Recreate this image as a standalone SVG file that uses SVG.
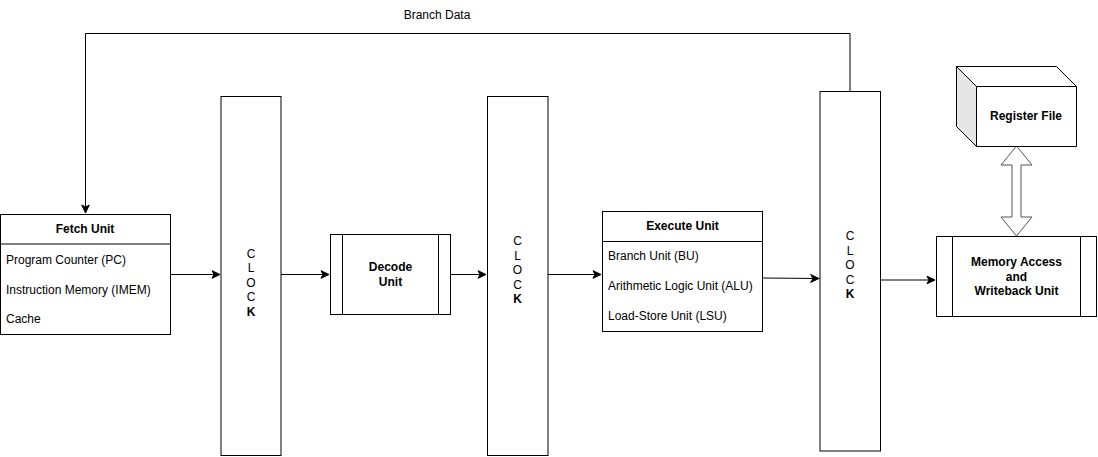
<svg xmlns="http://www.w3.org/2000/svg" width="1098" height="457" viewBox="0 0 1098 457">
<style>
text{font-family:"Liberation Sans",Arial,sans-serif;font-size:12px;fill:#000}
.b{font-weight:bold}
.m{text-anchor:middle}
.box{fill:#fff;stroke:#000;stroke-width:1}
.ln{fill:none;stroke:#000;stroke-width:1}
</style>
<defs>
<marker id="ah" markerUnits="userSpaceOnUse" markerWidth="10" markerHeight="10" viewBox="0 0 10 10" refX="9" refY="5" orient="auto">
<path d="M1,1.2 L9,5 L1,8.8 L3,5 Z" fill="#000" stroke="#000" stroke-width="1"/>
</marker>
</defs>
<rect width="1098" height="457" fill="#fff"/>

<g id="connectors">
<path class="ln" d="M850,91 L850,33.5 L85.5,33.5 L85.5,213" marker-end="url(#ah)"/>
<path class="ln" d="M170,274.5 L220,274.5" marker-end="url(#ah)"/>
<path class="ln" d="M281,274.5 L329,274.5" marker-end="url(#ah)"/>
<path class="ln" d="M450,274.5 L486,274.5" marker-end="url(#ah)"/>
<path class="ln" d="M548,274.5 L601,274.5" marker-end="url(#ah)"/>
<path class="ln" d="M763,278 L819,278.5" marker-end="url(#ah)"/>
<path class="ln" d="M880,280 L935,280" marker-end="url(#ah)"/>
<path d="M1016.5,146 L1032,165 L1021,165 L1021,217 L1032,217 L1016.5,236 L1001,217 L1012,217 L1012,165 L1001,165 Z" fill="#fff" stroke="#555" stroke-width="1"/>
<text class="m" x="437" y="19.3">Branch Data</text>
</g>

<g id="fetch">
<rect class="box" x="0.5" y="214.5" width="170" height="120"/>
<line class="ln" x1="0.5" y1="244" x2="170.5" y2="244"/>
<text class="b m" x="85" y="233.3">Fetch Unit</text>
<text x="6" y="263.5">Program Counter (PC)</text>
<text x="6" y="293.5">Instruction Memory (IMEM)</text>
<text x="6" y="322.5">Cache</text>
</g>

<g id="clock1">
<rect class="box" x="221" y="96.5" width="60" height="359"/>
<text class="m" x="251" y="257.5">C</text>
<text class="m" x="251" y="272">L</text>
<text class="m" x="251" y="286.5">O</text>
<text class="m" x="251" y="301">C</text>
<text class="m b" x="251" y="316">K</text>
</g>

<g id="decode">
<rect class="box" x="330.5" y="234.5" width="120" height="80"/>
<line class="ln" x1="342.5" y1="234.5" x2="342.5" y2="314.5"/>
<line class="ln" x1="438.5" y1="234.5" x2="438.5" y2="314.5"/>
<text class="b m" x="390.5" y="271">Decode</text>
<text class="b m" x="390.5" y="285.6">Unit</text>
</g>

<g id="clock2">
<rect class="box" x="487.5" y="96.5" width="60.5" height="359"/>
<text class="m" x="517.5" y="245">C</text>
<text class="m" x="517.5" y="259.7">L</text>
<text class="m" x="517.5" y="274.3">O</text>
<text class="m" x="517.5" y="288.8">C</text>
<text class="m b" x="517.5" y="303.3">K</text>
</g>

<g id="execute">
<rect class="box" x="602.5" y="211.5" width="160" height="120"/>
<line class="ln" x1="602.5" y1="241.5" x2="762.5" y2="241.5"/>
<text class="b m" x="682.5" y="230">Execute Unit</text>
<text x="608" y="260.3">Branch Unit (BU)</text>
<text x="608" y="290.3">Arithmetic Logic Unit (ALU)</text>
<text x="608" y="320.3">Load-Store Unit (LSU)</text>
</g>

<g id="clock3">
<rect class="box" x="820" y="91.5" width="60.5" height="359.5"/>
<text class="m" x="850" y="240.3">C</text>
<text class="m" x="850" y="254.8">L</text>
<text class="m" x="850" y="269.3">O</text>
<text class="m" x="850" y="283.8">C</text>
<text class="m b" x="850" y="298.3">K</text>
</g>

<g id="register-file">
<path d="M956.5,66.5 L976.5,86.5 L976.5,146.5 L956.5,126.5 Z" fill="#e6e6e6" stroke="none"/>
<path d="M956.5,66.5 L1056.5,66.5 L1076.5,86.5 L1076.5,146.5 L976.5,146.5 L956.5,126.5 Z" fill="none" stroke="#000"/>
<path d="M956.5,66.5 L976.5,86.5 L1076.5,86.5 M976.5,86.5 L976.5,146.5" fill="none" stroke="#000"/>
<text class="b m" x="1026" y="120.3">Register File</text>
</g>

<g id="memory-writeback">
<rect class="box" x="936.5" y="236.5" width="160" height="80"/>
<line class="ln" x1="952.5" y1="236.5" x2="952.5" y2="316.5"/>
<line class="ln" x1="1080.5" y1="236.5" x2="1080.5" y2="316.5"/>
<text class="b m" x="1016.5" y="266.3">Memory Access</text>
<text class="b m" x="1016.5" y="280.5">and</text>
<text class="b m" x="1016.5" y="294.8">Writeback Unit</text>
</g>
</svg>
